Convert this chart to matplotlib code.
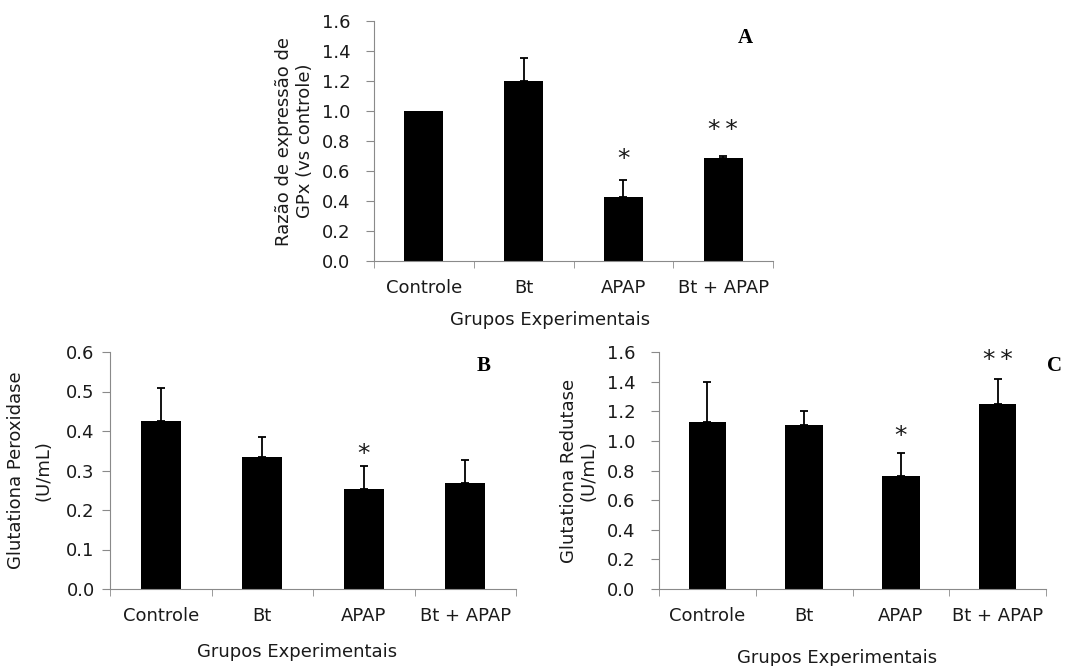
import matplotlib
matplotlib.use('Agg')
import matplotlib.pyplot as plt
import numpy as np

groups = ['Controle', 'Bt', 'APAP', 'Bt + APAP']

# panel A - GPx expression ratio
gpx_expr = [1.0, 1.2, 0.43, 0.69]
gpx_expr_err = [0.0, 0.155, 0.11, 0.01]
gpx_expr_marks = ['', '', '*', '**']

# panel B - glutationa peroxidase
gpx_act = [0.425, 0.335, 0.253, 0.268]
gpx_act_err = [0.085, 0.05, 0.058, 0.059]
gpx_act_marks = ['', '', '*', '']

# panel C - glutationa redutase
gr_act = [1.13, 1.11, 0.76, 1.25]
gr_act_err = [0.27, 0.09, 0.16, 0.17]
gr_act_marks = ['', '', '*', '**']

W, H = 1081, 666
FS = 13
plt.rcParams['font.family'] = ['DejaVu Sans']
fig = plt.figure(figsize=(W / 100, H / 100), dpi=100)
AXIS_COL = '#8a8a8a'
TXT_COL = '#1a1a1a'


def box(l, t, r, b):
    return [l / W, 1 - b / H, (r - l) / W, (b - t) / H]


def px(x, y):
    return x / W, 1 - y / H


def draw_panel(rect, vals, errs, marks, ymax, step, ylabel, lab_x, lspace, ypad, mark_off):
    ax = fig.add_axes(rect)
    x = np.arange(len(groups))
    vals = np.array(vals)
    errs = np.array(errs)
    ax.bar(x, vals, width=0.39, color='black', zorder=2)
    has_err = errs > 0
    ax.errorbar(x[has_err], vals[has_err], yerr=[np.zeros(has_err.sum()), errs[has_err]],
                fmt='none', ecolor='black', elinewidth=1.3, capsize=3, capthick=1.3,
                zorder=3)
    for i, m in enumerate(marks):
        if m:
            # spread the double asterisk a little, like the original
            txt = '\u2009'.join(m)
            ax.text(x[i], vals[i] + errs[i] + mark_off * (1.6 if len(m) > 1 else 1),
                    txt, ha='center', va='bottom', fontsize=18, color=TXT_COL)
    ax.set_xlim(-0.5, len(groups) - 0.5)
    ax.set_ylim(0, ymax)
    ticks = np.arange(0, ymax + step / 2, step)
    ax.set_yticks(ticks)
    ax.set_yticklabels(['{:.1f}'.format(t) for t in ticks])
    ax.set_xticks(x)
    ax.set_xticklabels(groups)
    ax.set_xticks(np.arange(-0.5, len(groups)), minor=True)
    ax.tick_params(axis='x', which='major', length=0, pad=13, labelsize=FS,
                   labelcolor=TXT_COL)
    ax.tick_params(axis='x', which='minor', length=5, color=AXIS_COL, direction='out')
    ax.tick_params(axis='y', length=6, color=AXIS_COL, labelsize=FS, pad=ypad,
                   labelcolor=TXT_COL)
    for s in ['top', 'right']:
        ax.spines[s].set_visible(False)
    for s in ['left', 'bottom']:
        ax.spines[s].set_color(AXIS_COL)
    ax.set_ylabel(ylabel, fontsize=FS, linespacing=lspace, color=TXT_COL)
    ax.yaxis.set_label_coords(lab_x, 0.5)
    return ax


draw_panel(box(374, 21, 773, 261), gpx_expr, gpx_expr_err, gpx_expr_marks,
           1.6, 0.2, 'Razão de expressão de\nGPx (vs controle)', -0.15, 1.2, 11, 0.06)
draw_panel(box(110, 352, 516, 589), gpx_act, gpx_act_err, gpx_act_marks,
           0.6, 0.1, 'Glutationa Peroxidase\n(U/mL)', -0.142, 1.65, 5, 0.0)
draw_panel(box(659, 352, 1046, 589), gr_act, gr_act_err, gr_act_marks,
           1.6, 0.2, 'Glutationa Redutase\n(U/mL)', -0.158, 1.15, 11, 0.03)

fig.text(*px(550, 320), 'Grupos Experimentais', ha='center', va='center', fontsize=FS,
         color=TXT_COL)
fig.text(*px(297, 652), 'Grupos Experimentais', ha='center', va='center', fontsize=FS,
         color=TXT_COL)
fig.text(*px(837, 658), 'Grupos Experimentais', ha='center', va='center', fontsize=FS,
         color=TXT_COL)

for lbl, (lx, ly) in zip(['A', 'B', 'C'], [(745, 38), (484, 366), (1055, 366)]):
    fig.text(*px(lx, ly), lbl, ha='center', va='center', fontsize=15, fontweight='bold',
             family='Liberation Serif')

fig.savefig('out.png', dpi=100)
